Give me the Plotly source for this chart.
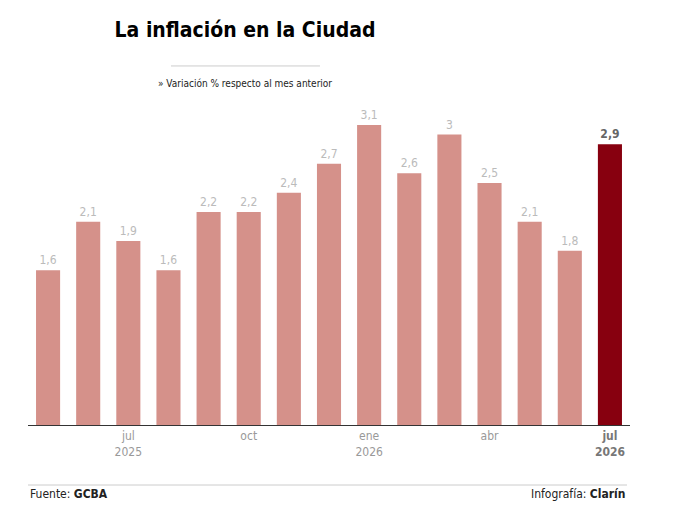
import plotly.graph_objects as go

meses = ["may 2025", "jun 2025", "jul 2025", "ago 2025", "sep 2025", "oct 2025",
         "nov 2025", "dic 2025", "ene 2026", "feb 2026", "mar 2026", "abr 2026",
         "may 2026", "jun 2026", "jul 2026"]
inflacion = [1.6, 2.1, 1.9, 1.6, 2.2, 2.2, 2.4, 2.7, 3.1, 2.6, 3.0, 2.5, 2.1, 1.8, 2.9]
tick_meses = ["jul 2025", "oct 2025", "ene 2026", "abr 2026", "jul 2026"]
tick_textos = ["jul<br>2025", "oct", "ene<br>2026", "abr",
               "<b><span style='color:#777'>jul<br>2026</span></b>"]

FONT = "DejaVu Sans Condensed, Roboto, sans-serif"
ROSA = "#D5918A"
BORDO = "#87000F"

colores = [ROSA] * (len(inflacion) - 1) + [BORDO]
textos = [f"{v:g}".replace(".", ",") for v in inflacion]
textos[-1] = f"<b>{textos[-1]}</b>"
color_textos = ["#BBBBBB"] * (len(inflacion) - 1) + ["#666666"]

fig = go.Figure()
fig.add_trace(go.Bar(
    x=meses,
    y=inflacion,
    marker=dict(color=colores, line=dict(width=0)),
    width=0.6,
    text=textos,
    textposition="outside",
    textfont=dict(family=FONT, size=12, color=color_textos),
    cliponaxis=False,
    hoverinfo="skip",
))

fig.update_xaxes(
    tickvals=tick_meses,
    ticktext=tick_textos,
    tickfont=dict(family=FONT, size=12, color="#999999"),
    showline=True,
    linecolor="#333333",
    linewidth=1,
    ticks="",
    showgrid=False,
    range=[-0.5, 14.5],
)
fig.update_yaxes(visible=False, range=[0, 3.306])

# la página html agrega 8px de margen arriba y a la izquierda
fig.update_layout(
    width=700,
    height=520,
    margin=dict(l=20, r=78, t=97, b=103),
    paper_bgcolor="white",
    plot_bgcolor="white",
    showlegend=False,
    title=dict(
        text="<b>La inflación en la Ciudad</b>",
        font=dict(family=FONT, size=21, color="black"),
        x=237 / 700, xanchor="center",
        y=1 - 22 / 520, yanchor="middle",
    ),
    shapes=[
        dict(type="line", xref="paper", yref="paper",
             x0=0.2375, x1=0.485, y0=1.122, y1=1.122,
             line=dict(color="#CCCCCC", width=1)),
        dict(type="line", xref="paper", yref="paper",
             x0=0.0, x1=0.995, y0=-0.1875, y1=-0.1875,
             line=dict(color="#CCCCCC", width=1)),
    ],
    annotations=[
        dict(text="» Variación % respecto al mes anterior", xref="paper", yref="paper",
             x=0.361, y=1.066, showarrow=False, xanchor="center", yanchor="middle",
             font=dict(family=FONT, size=10, color="#222222")),
        dict(text="Fuente: <b>GCBA</b>", xref="paper", yref="paper",
             x=0.0, y=-0.216, showarrow=False, xanchor="left", yanchor="middle",
             font=dict(family=FONT, size=12, color="#222222")),
        dict(text="Infografía: <b>Clarín</b>", xref="paper", yref="paper",
             x=0.995, y=-0.216, showarrow=False, xanchor="right", yanchor="middle",
             font=dict(family=FONT, size=12, color="#222222")),
    ],
)

fig.write_html("out.html")
